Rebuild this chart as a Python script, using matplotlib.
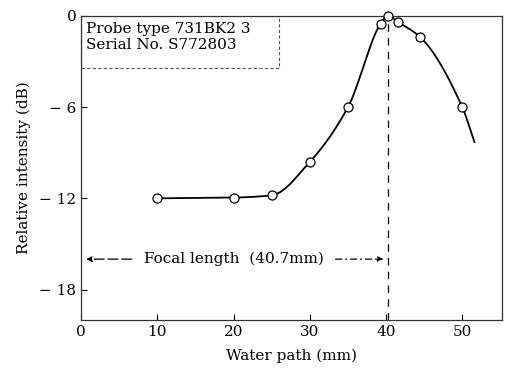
import numpy as np
import matplotlib
matplotlib.use('Agg')
import matplotlib.pyplot as plt
from matplotlib.patches import Rectangle

# -------------------------------------------
# data

water_path = [10, 20, 25, 30, 35, 39.3, 40.2, 41.6, 44.5, 50]
intensity_db = [-12, -11.95, -11.8, -9.6, -6, -0.5, 0, -0.4, -1.4, -6]
curve_end = (51.6, -8.3)          # where the drawn curve stops
focal_length = 40.3
focal_y = -16
x_ticks = [0, 10, 20, 30, 40, 50]
y_ticks = [0, -6, -12, -18]
y_tick_labels = ['0', '\u2212 6', '\u2212 12', '\u2212 18']
probe_lines = ['Probe type 731BK2 3', 'Serial No. S772803']


def pchip(x, y, xs):
    x = np.asarray(x, float)
    y = np.asarray(y, float)
    h = np.diff(x)
    d = np.diff(y) / h
    m = np.zeros_like(y)
    for k in range(1, len(x) - 1):
        if d[k - 1] * d[k] > 0:
            w1 = 2 * h[k] + h[k - 1]
            w2 = h[k] + 2 * h[k - 1]
            m[k] = (w1 + w2) / (w1 / d[k - 1] + w2 / d[k])
    m[0] = d[0]
    m[-1] = d[-1]
    idx = np.clip(np.searchsorted(x, xs) - 1, 0, len(x) - 2)
    t = (xs - x[idx]) / h[idx]
    h00 = 2 * t**3 - 3 * t**2 + 1
    h10 = t**3 - 2 * t**2 + t
    h01 = -2 * t**3 + 3 * t**2
    h11 = t**3 - t**2
    return (h00 * y[idx] + h10 * h[idx] * m[idx]
            + h01 * y[idx + 1] + h11 * h[idx] * m[idx + 1])


plt.rcParams['font.family'] = ['DejaVu Serif']

fig = plt.figure(figsize=(5.07, 3.72), dpi=100)
ax = fig.add_axes([0.160, 0.140, 0.830, 0.817])

cx = water_path + [curve_end[0]]
cy = intensity_db + [curve_end[1]]
xs = np.linspace(cx[0], cx[-1], 400)
ax.plot(xs, pchip(cx, cy, xs), color='black', lw=1.3, zorder=2)
ax.plot(water_path, intensity_db, 'o', ms=6.5, mfc='white', mec='black',
        mew=0.9, zorder=3, clip_on=False)

ax.axvline(focal_length, color='black', lw=0.9, ls=(0, (6, 5)), zorder=1)

# focal length arrow
ax.annotate('', xy=(0.3, focal_y), xytext=(7.0, focal_y),
            arrowprops=dict(arrowstyle='-|>', color='black', lw=0.9,
                            ls=(0, (8, 3)), mutation_scale=8))
ax.annotate('', xy=(focal_length - 0.3, focal_y), xytext=(33.0, focal_y),
            arrowprops=dict(arrowstyle='-|>', color='black', lw=0.9,
                            ls=(0, (5, 3, 1, 3)), mutation_scale=8))
ax.text(20.0, focal_y, 'Focal length  (40.7mm)', ha='center', va='center',
        fontsize=11)

# probe info box
ax.add_patch(Rectangle((0, -3.4), 25.9, 3.4, fill=False, ec='#555555',
                       lw=0.8, ls=(0, (3, 2))))
ax.text(0.6, -0.4, '\n'.join(probe_lines), ha='left', va='top',
        fontsize=11, linespacing=1.15)

ax.set_xlim(0, 55.2)
ax.set_ylim(-20, 0)
ax.set_xticks(x_ticks)
ax.set_yticks(y_ticks)
ax.set_yticklabels(y_tick_labels)
ax.tick_params(direction='in', length=4, width=0.8, labelsize=11)
for s in ax.spines.values():
    s.set_linewidth(0.9)
    s.set_color('#333333')

ax.set_xlabel('Water path (mm)', fontsize=11, labelpad=7)
ax.set_ylabel('Relative intensity (dB)', fontsize=11, labelpad=6)

fig.savefig('out.png', dpi=100)
